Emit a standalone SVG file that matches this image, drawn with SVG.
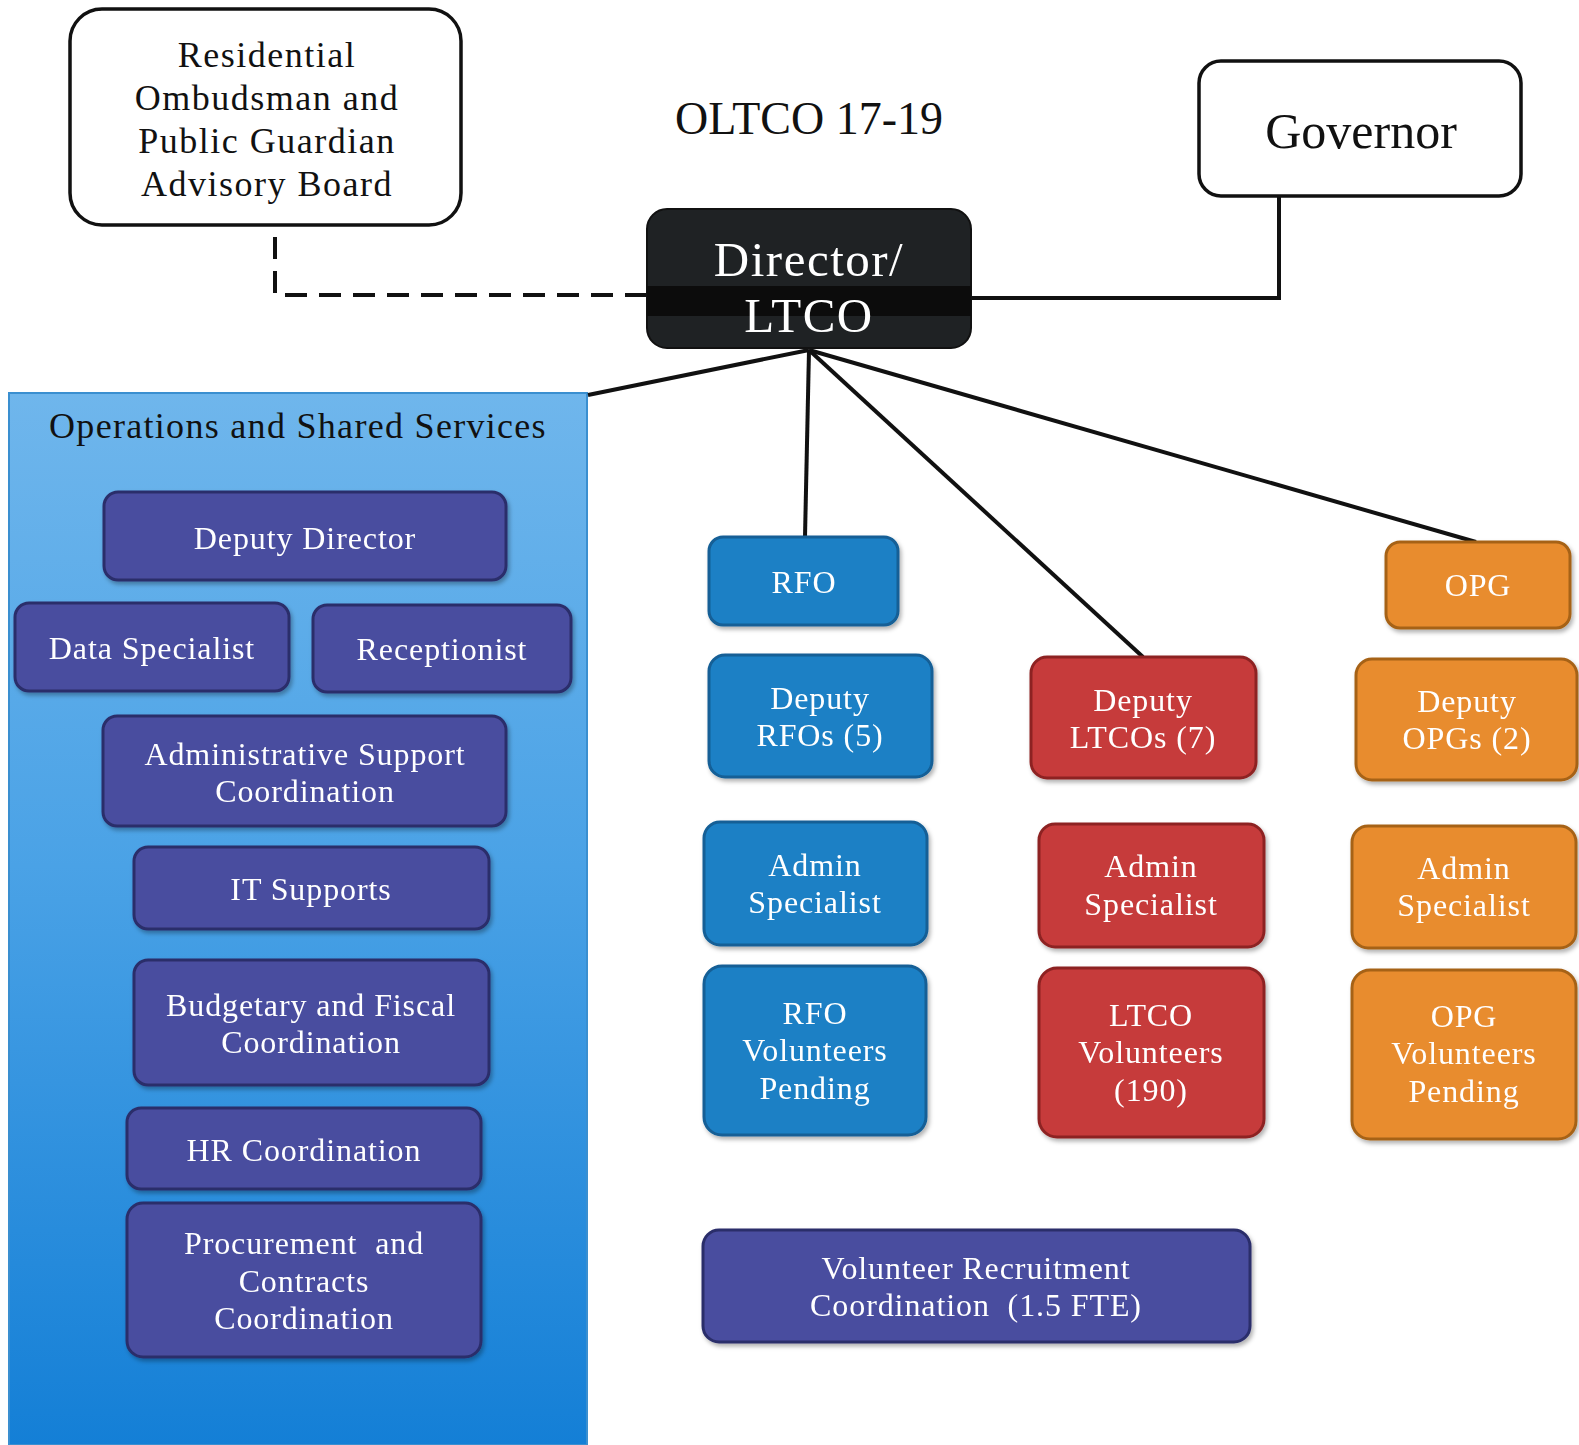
<svg xmlns="http://www.w3.org/2000/svg" width="1579" height="1445" viewBox="0 0 1579 1445">
<defs>
<linearGradient id="opsGrad" x1="0" y1="0" x2="0" y2="1">
<stop offset="0" stop-color="#6fb6ec"/>
<stop offset="0.45" stop-color="#4aa2e6"/>
<stop offset="1" stop-color="#147fd6"/>
</linearGradient>
<filter id="sh" x="-10%" y="-10%" width="125%" height="130%">
<feDropShadow dx="2" dy="3" stdDeviation="2" flood-color="#000" flood-opacity="0.3"/>
</filter>
</defs>
<style>
text{font-family:"Liberation Serif","DejaVu Serif",serif;text-anchor:middle}
.w{fill:#fff;stroke:#111;stroke-width:3.5}
.t{fill:#111}
.p{fill:#4a4d9f;stroke:#2b2d6b;stroke-width:3}
.b{fill:#1c80c5;stroke:#125e96;stroke-width:3}
.r{fill:#c63b3b;stroke:#8d2323;stroke-width:3}
.o{fill:#e88c2f;stroke:#a66218;stroke-width:3}
.n{fill:#fff;font-size:32px;letter-spacing:0.9px}
.pre{white-space:pre}
.con{fill:none;stroke:#111;stroke-width:4}
</style>
<rect width="1579" height="1445" fill="#fff"/>

<g id="ops-panel">
<rect x="9" y="393" width="578" height="1052" fill="url(#opsGrad)" stroke="#3a8fd0" stroke-width="2"/>
<text x="298" y="438" class="t" style="font-size:36px;letter-spacing:1.3px">Operations and Shared Services</text>
</g>

<g id="connectors">
<polyline class="con" points="275,237 275,295 648,295" stroke-dasharray="22,12"/>
<polyline class="con" points="1279,197 1279,298 971,298"/>
<line class="con" x1="809" y1="350" x2="588" y2="395"/>
<line class="con" x1="809" y1="350" x2="805" y2="537"/>
<line class="con" x1="809" y1="350" x2="1143" y2="657"/>
<line class="con" x1="809" y1="350" x2="1476" y2="542"/>
</g>

<g id="advisory-board">
<rect x="70" y="9" width="391" height="216" rx="32" class="w"/>
<text class="t" style="font-size:36px;letter-spacing:1.5px"><tspan x="267" y="67">Residential</tspan><tspan x="267" y="110">Ombudsman and</tspan><tspan x="267" y="153">Public Guardian</tspan><tspan x="267" y="196">Advisory Board</tspan></text>
</g>

<g id="title">
<text x="809" y="134" class="t" style="font-size:46px">OLTCO 17-19</text>
</g>

<g id="governor">
<rect x="1199" y="61" width="322" height="135" rx="22" class="w"/>
<text x="1361" y="148" class="t" style="font-size:50px">Governor</text>
</g>

<g id="director">
<rect x="647" y="209" width="324" height="139" rx="20" fill="#1f2224" stroke="#111" stroke-width="2"/>
<rect x="647" y="286" width="324" height="30" fill="#0c0c0c"/>
<text class="n" style="font-size:49px;letter-spacing:1.5px"><tspan x="809" y="276">Director/</tspan><tspan x="809" y="332">LTCO</tspan></text>
</g>

<g id="deputy-director" filter="url(#sh)">
<rect x="104" y="492" width="402" height="88" rx="14" class="p"/>
<text x="305" y="549" class="n">Deputy Director</text>
</g>
<g id="data-specialist" filter="url(#sh)">
<rect x="15" y="603" width="274" height="88" rx="14" class="p"/>
<text x="152" y="659" class="n">Data Specialist</text>
</g>
<g id="receptionist" filter="url(#sh)">
<rect x="313" y="605" width="258" height="87" rx="14" class="p"/>
<text x="442" y="660" class="n">Receptionist</text>
</g>
<g id="admin-support" filter="url(#sh)">
<rect x="103" y="716" width="403" height="110" rx="14" class="p"/>
<text class="n"><tspan x="305" y="765">Administrative Support</tspan><tspan x="305" y="802">Coordination</tspan></text>
</g>
<g id="it-supports" filter="url(#sh)">
<rect x="134" y="847" width="355" height="82" rx="14" class="p"/>
<text x="311" y="900" class="n">IT Supports</text>
</g>
<g id="budgetary" filter="url(#sh)">
<rect x="134" y="960" width="355" height="125" rx="14" class="p"/>
<text class="n"><tspan x="311" y="1016">Budgetary and Fiscal</tspan><tspan x="311" y="1053">Coordination</tspan></text>
</g>
<g id="hr" filter="url(#sh)">
<rect x="127" y="1108" width="354" height="81" rx="14" class="p"/>
<text x="304" y="1161" class="n">HR Coordination</text>
</g>
<g id="procurement" filter="url(#sh)">
<rect x="127" y="1203" width="354" height="154" rx="16" class="p"/>
<text class="n pre"><tspan x="304" y="1254">Procurement  and</tspan><tspan x="304" y="1292">Contracts</tspan><tspan x="304" y="1329">Coordination</tspan></text>
</g>

<g id="rfo" filter="url(#sh)">
<rect x="709" y="537" width="189" height="88" rx="14" class="b"/>
<text x="804" y="593" class="n">RFO</text>
</g>
<g id="deputy-rfos" filter="url(#sh)">
<rect x="709" y="655" width="223" height="122" rx="16" class="b"/>
<text class="n"><tspan x="820" y="709">Deputy</tspan><tspan x="820" y="746">RFOs (5)</tspan></text>
</g>
<g id="admin-rfo" filter="url(#sh)">
<rect x="704" y="822" width="223" height="123" rx="16" class="b"/>
<text class="n"><tspan x="815" y="876">Admin</tspan><tspan x="815" y="913">Specialist</tspan></text>
</g>
<g id="rfo-volunteers" filter="url(#sh)">
<rect x="704" y="966" width="222" height="169" rx="18" class="b"/>
<text class="n"><tspan x="815" y="1024">RFO</tspan><tspan x="815" y="1061">Volunteers</tspan><tspan x="815" y="1099">Pending</tspan></text>
</g>

<g id="deputy-ltcos" filter="url(#sh)">
<rect x="1031" y="657" width="225" height="121" rx="16" class="r"/>
<text class="n"><tspan x="1143" y="711">Deputy</tspan><tspan x="1143" y="748">LTCOs (7)</tspan></text>
</g>
<g id="admin-ltco" filter="url(#sh)">
<rect x="1039" y="824" width="225" height="123" rx="16" class="r"/>
<text class="n"><tspan x="1151" y="877">Admin</tspan><tspan x="1151" y="915">Specialist</tspan></text>
</g>
<g id="ltco-volunteers" filter="url(#sh)">
<rect x="1039" y="968" width="225" height="169" rx="18" class="r"/>
<text class="n"><tspan x="1151" y="1026">LTCO</tspan><tspan x="1151" y="1063">Volunteers</tspan><tspan x="1151" y="1101">(190)</tspan></text>
</g>

<g id="opg" filter="url(#sh)">
<rect x="1386" y="542" width="184" height="86" rx="14" class="o"/>
<text x="1478" y="596" class="n">OPG</text>
</g>
<g id="deputy-opgs" filter="url(#sh)">
<rect x="1356" y="659" width="221" height="121" rx="16" class="o"/>
<text class="n"><tspan x="1467" y="712">Deputy</tspan><tspan x="1467" y="749">OPGs (2)</tspan></text>
</g>
<g id="admin-opg" filter="url(#sh)">
<rect x="1352" y="826" width="224" height="122" rx="16" class="o"/>
<text class="n"><tspan x="1464" y="879">Admin</tspan><tspan x="1464" y="916">Specialist</tspan></text>
</g>
<g id="opg-volunteers" filter="url(#sh)">
<rect x="1352" y="970" width="224" height="169" rx="18" class="o"/>
<text class="n"><tspan x="1464" y="1027">OPG</tspan><tspan x="1464" y="1064">Volunteers</tspan><tspan x="1464" y="1102">Pending</tspan></text>
</g>

<g id="volunteer-recruitment" filter="url(#sh)">
<rect x="703" y="1230" width="547" height="112" rx="16" class="p"/>
<text class="n pre"><tspan x="976" y="1279">Volunteer Recruitment</tspan><tspan x="976" y="1316">Coordination  (1.5 FTE)</tspan></text>
</g>
</svg>
